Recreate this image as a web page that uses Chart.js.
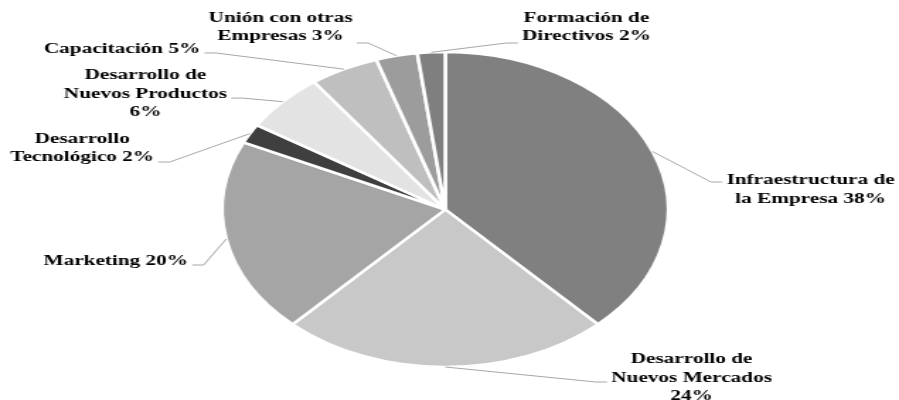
<!DOCTYPE html>
<html>
<head>
<meta charset="utf-8">
<script src="https://cdn.jsdelivr.net/npm/chart.js@4/dist/chart.umd.min.js"></script>
<style>
  html, body { margin: 0; padding: 0; background: #fff; overflow: hidden; }
  #wrap { width: 635px; height: 400px; transform: scaleX(1.41575); transform-origin: 0 0; }
</style>
</head>
<body>
<div id="wrap"><canvas id="pie-chart" width="635" height="400"></canvas></div>
<script>
// Data
const categories = [
  'Infraestructura de la Empresa',
  'Desarrollo de Nuevos Mercados',
  'Marketing',
  'Desarrollo Tecnológico',
  'Desarrollo de Nuevos Productos',
  'Capacitación',
  'Unión con otras Empresas',
  'Formación de Directivos'
];
const values = [38, 24, 20, 2, 6, 5, 3, 2];
const sliceColors = ['#808080', '#c8c8c8', '#a5a5a5', '#3f3f3f', '#e3e3e3', '#bfbfbf', '#9c9c9c', '#7f7f7f'];

// How each label wraps (the value is appended to the last line)
const labelLines = [
  ['Infraestructura de', 'la Empresa'],
  ['Desarrollo de', 'Nuevos Mercados', ''],
  ['Marketing'],
  ['Desarrollo', 'Tecnológico'],
  ['Desarrollo de', 'Nuevos Productos', ''],
  ['Capacitación'],
  ['Unión con otras', 'Empresas'],
  ['Formación de', 'Directivos']
];

// Label placement: offset of text block centre from slice edge, and leader attach y
const labelOffsets = [
  [111.6, 38, -7.5],
  [174, 11, 4],
  [-78, 22, 4],
  [-118.4, 14.4, 14],
  [-97, -7.6, 4],
  [-156.8, -20.2, 4],
  [-82, -28.8, 16],
  [109.6, -25.3, 16]
];

const LINE_H = 18.5;
const FONT = 'bold 15px "Liberation Serif", "Times New Roman", serif';

/**
 * Outside labels with leader lines
 */
const outsideLabels = {
  id: 'outsideLabels',
  afterDatasetsDraw(chart) {
    const ctx = chart.ctx;
    const arcs = chart.getDatasetMeta(0).data;
    ctx.save();
    ctx.font = FONT;
    arcs.forEach((arc, i) => {
      const { x, y, startAngle, endAngle, outerRadius } = arc.getProps(['x', 'y', 'startAngle', 'endAngle', 'outerRadius'], true);
      const mid = (startAngle + endAngle) / 2;
      const ex = x + Math.cos(mid) * outerRadius;
      const ey = y + Math.sin(mid) * outerRadius;

      const lines = labelLines[i].slice();
      const last = lines.length - 1;
      lines[last] = (lines[last] ? lines[last] + ' ' : '') + values[i] + '%';

      const [dx, dy, ady] = labelOffsets[i];
      const cx = ex + dx;
      const cy = ey + dy;
      const w = Math.max(...lines.map(l => ctx.measureText(l).width));
      const side = dx >= 0 ? 1 : -1;
      const ax = cx - side * (w / 2 + 3);
      const ay = cy + ady;

      // leader line
      ctx.strokeStyle = '#a6a6a6';
      ctx.lineWidth = 1;
      ctx.beginPath();
      ctx.moveTo(ex, ey);
      ctx.lineTo(ax - side * 8, ay);
      ctx.lineTo(ax, ay);
      ctx.stroke();

      // text
      ctx.fillStyle = '#000';
      ctx.textAlign = 'center';
      ctx.textBaseline = 'middle';
      lines.forEach((l, k) => {
        ctx.fillText(l, cx, cy + (k - (lines.length - 1) / 2) * LINE_H);
      });
    });
    ctx.restore();
  }
};

new Chart(document.getElementById('pie-chart'), {
  type: 'pie',
  data: {
    labels: categories,
    datasets: [{
      data: values,
      backgroundColor: sliceColors,
      borderColor: '#ffffff',
      borderWidth: 2.5
    }]
  },
  options: {
    responsive: false,
    devicePixelRatio: 1,
    animation: false,
    radius: 157.5,
    layout: { padding: { left: 0, right: 6, top: 52, bottom: 33 } },
    plugins: {
      legend: { display: false },
      tooltip: { enabled: false }
    }
  },
  plugins: [outsideLabels]
});
</script>
</body>
</html>
